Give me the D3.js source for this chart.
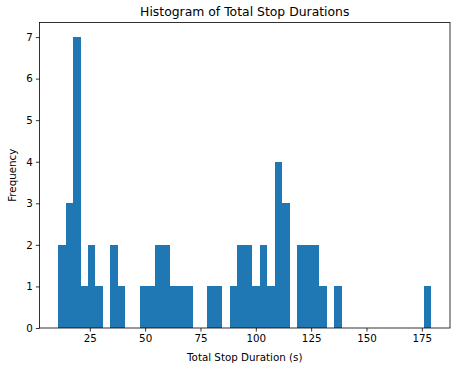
<!DOCTYPE html>
<html>
<head>
<meta charset="utf-8">
<script src="https://cdn.jsdelivr.net/npm/d3@7"></script>
<style>
  body { margin: 0; background: #fff; }
  svg { font-family: "DejaVu Sans", sans-serif; }
</style>
</head>
<body>
<svg id="chart" width="475" height="368"></svg>
<script>
// Histogram data (50 equal bins between the min and max stop duration)
const binMin = 10.7;
const binMax = 179.3;
const binCounts = [
  2, 3, 7, 1, 2, 1, 0, 2, 1, 0,
  0, 1, 1, 2, 2, 1, 1, 1, 0, 0,
  1, 1, 0, 1, 2, 2, 1, 2, 1, 4,
  3, 0, 2, 2, 2, 1, 0, 1, 0, 0,
  0, 0, 0, 0, 0, 0, 0, 0, 0, 1
];
const xTicks = [25, 50, 75, 100, 125, 150, 175];
const yTicks = [0, 1, 2, 3, 4, 5, 6, 7];

const width = 475, height = 368;
const margin = { top: 22.5, right: 25, bottom: 40, left: 39.5 };

const svg = d3.select("#chart");

const binWidth = (binMax - binMin) / binCounts.length;
const bins = binCounts.map((c, i) => ({
  x0: binMin + i * binWidth,
  x1: binMin + (i + 1) * binWidth,
  count: c
}));

// matplotlib-like 5% margins on x
const pad = (binMax - binMin) * 0.05;
const x = d3.scaleLinear()
  .domain([binMin - pad, binMax + pad])
  .range([margin.left, width - margin.right]);

const y = d3.scaleLinear()
  .domain([0, d3.max(binCounts) * 1.05])
  .range([height - margin.bottom, margin.top]);

// bars - crispEdges so neighbouring bins meet without seams
svg.append("g")
  .attr("shape-rendering", "crispEdges")
  .selectAll("rect")
  .data(bins.filter(d => d.count > 0))
  .join("rect")
    .attr("x", d => x(d.x0))
    .attr("width", d => x(d.x1) - x(d.x0))
    .attr("y", d => y(d.count))
    .attr("height", d => y(0) - y(d.count))
    .attr("fill", "#1f77b4");

// axes
const xAxis = svg.append("g")
  .attr("transform", `translate(0,${height - margin.bottom})`)
  .call(d3.axisBottom(x).tickValues(xTicks).tickSize(3.6).tickPadding(3).tickFormat(d3.format("d")));

const yAxis = svg.append("g")
  .attr("transform", `translate(${margin.left},0)`)
  .call(d3.axisLeft(y).tickValues(yTicks).tickSize(3.6).tickPadding(3).tickFormat(d3.format("d")));

[xAxis, yAxis].forEach(g => {
  g.select(".domain").remove();
  g.selectAll("line").attr("stroke", "#000").attr("stroke-width", 0.8);
  g.selectAll("text")
    .attr("font-family", "DejaVu Sans, sans-serif")
    .attr("font-size", 10.3)
    .attr("fill", "#000");
});

// spines
svg.append("rect")
  .attr("x", margin.left)
  .attr("y", margin.top)
  .attr("width", width - margin.right - margin.left)
  .attr("height", height - margin.bottom - margin.top)
  .attr("fill", "none")
  .attr("stroke", "#000")
  .attr("stroke-width", 0.8);

// title and labels
svg.append("text")
  .attr("x", (margin.left + width - margin.right) / 2)
  .attr("y", 16)
  .attr("text-anchor", "middle")
  .attr("font-size", 12.4)
  .text("Histogram of Total Stop Durations");

svg.append("text")
  .attr("x", (margin.left + width - margin.right) / 2)
  .attr("y", 361)
  .attr("text-anchor", "middle")
  .attr("font-size", 10.3)
  .text("Total Stop Duration (s)");

svg.append("text")
  .attr("transform", `translate(16,${(margin.top + height - margin.bottom) / 2}) rotate(-90)`)
  .attr("text-anchor", "middle")
  .attr("font-size", 10.3)
  .text("Frequency");
</script>
</body>
</html>
